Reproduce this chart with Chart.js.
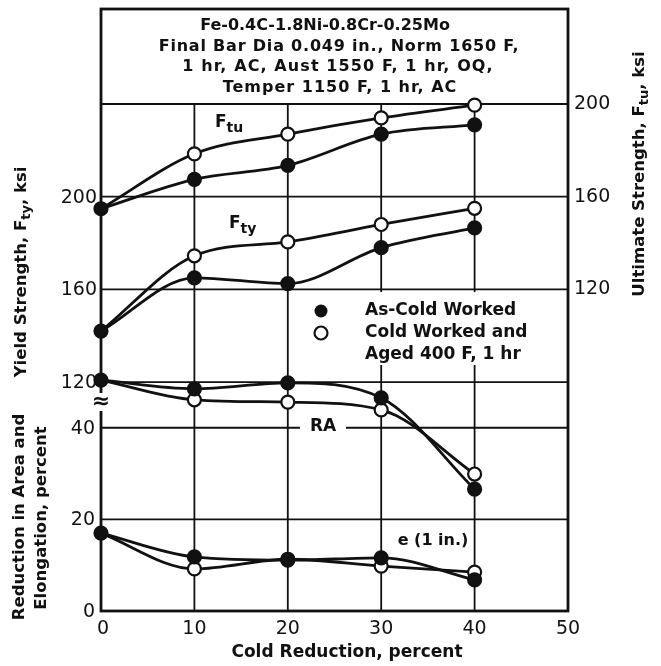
<!DOCTYPE html>
<html>
<head>
<meta charset="utf-8">
<script src="https://cdn.jsdelivr.net/npm/chart.js@4/dist/chart.umd.min.js"></script>
<style>
  html, body { margin: 0; padding: 0; background: #fff; }
  #chart { display: block; }
</style>
</head>
<body>
<canvas id="chart" width="661" height="666"></canvas>
<script>
// cold reduction, percent
const reduction = [0, 10, 20, 30, 40];

// ultimate strength Ftu, ksi (right axis)
const ftuCold = [154.8, 167.5, 173.5, 187, 191];
const ftuAged = [154.8, 178.5, 187, 194, 199.5];

// yield strength Fty, ksi (left, upper)
const ftyCold = [142, 165, 162.5, 178, 186.5];
const ftyAged = [142, 174.5, 180.5, 188, 195];

// reduction in area and elongation, percent (left, lower)
const raCold = [50.4, 48.5, 49.8, 46.5, 26.6];
const raAged = [50.4, 46.1, 45.6, 43.9, 29.9];
const elCold = [17, 11.8, 11.1, 11.6, 6.8];
const elAged = [17, 9.2, 11.3, 9.8, 8.5];

// ticks and grid
const xTicks = [0, 10, 20, 30, 40, 50];
const xGrid = [10, 20, 30, 40];
const yieldTicks = [120, 160, 200];
const yieldGrid = [120, 160, 200, 240];
const pctTicks = [0, 20, 40];
const pctGrid = [20, 40];
const ultTicks = [120, 160, 200];

const titleLines = [
  "Fe-0.4C-1.8Ni-0.8Cr-0.25Mo",
  "Final Bar Dia 0.049 in., Norm 1650 F,",
  "1 hr, AC, Aust 1550 F, 1 hr, OQ,",
  "Temper 1150 F, 1 hr, AC"
];

const FONT = '"DejaVu Sans", "Liberation Sans", sans-serif';
const INK = "#111";

function pts(ys) {
  return reduction.map((x, i) => ({ x: x, y: ys[i] }));
}

function series(label, ys, axis, aged) {
  return {
    label: label,
    data: pts(ys),
    yAxisID: axis,
    borderColor: INK,
    borderWidth: 2.8,
    cubicInterpolationMode: "monotone",
    fill: false,
    clip: false,
    pointRadius: aged ? (c => c.dataIndex === 0 ? 0 : 6.5) : 6.5,
    pointBorderWidth: 2.2,
    pointBorderColor: INK,
    pointBackgroundColor: aged ? "#fff" : INK
  };
}

// text with subscript runs: [["Yield Strength, F"], ["ty", true], [", ksi"]]
function runs(ctx, parts, x, y, size, align) {
  const sub = Math.round(size * 0.8);
  let w = 0;
  parts.forEach(p => {
    ctx.font = `bold ${p[1] ? sub : size}px ${FONT}`;
    w += ctx.measureText(p[0]).width;
  });
  let cx = align === "left" ? x : x - w / 2;
  ctx.textAlign = "left";
  parts.forEach(p => {
    ctx.font = `bold ${p[1] ? sub : size}px ${FONT}`;
    ctx.fillText(p[0], cx, p[1] ? y + size * 0.3 : y);
    cx += ctx.measureText(p[0]).width;
  });
}

function rotated(ctx, parts, cx, cy, size) {
  ctx.save();
  ctx.translate(cx, cy);
  ctx.rotate(-Math.PI / 2);
  runs(ctx, parts, 0, 0, size, "center");
  ctx.restore();
}

function seg(ctx, x1, y1, x2, y2) {
  ctx.beginPath();
  ctx.moveTo(x1, y1);
  ctx.lineTo(x2, y2);
  ctx.stroke();
}

const sheet = {
  id: "sheet",
  beforeDatasetsDraw(chart) {
    const { ctx, chartArea: a } = chart;
    const { x, yY, yP } = chart.scales;
    ctx.save();
    ctx.strokeStyle = INK;
    ctx.lineWidth = 1.8;
    const top = yY.getPixelForValue(240);
    xGrid.forEach(v => {
      const px = x.getPixelForValue(v);
      seg(ctx, px, top, px, a.bottom);
    });
    yieldGrid.forEach(v => {
      const py = yY.getPixelForValue(v);
      seg(ctx, a.left, py, a.right, py);
    });
    pctGrid.forEach(v => {
      const py = yP.getPixelForValue(v);
      seg(ctx, a.left, py, a.right, py);
    });
    // white patches: legend box and RA label gap
    ctx.fillStyle = "#fff";
    ctx.fillRect(300, 292, 262, 73);
    ctx.fillRect(300, yP.getPixelForValue(40) - 8, 46, 16);
    ctx.lineWidth = 2.8;
    ctx.strokeRect(a.left, a.top, a.right - a.left, a.bottom - a.top);
    ctx.restore();
  },
  afterDatasetsDraw(chart) {
    const { ctx, chartArea: a } = chart;
    const { x, yY, yP, yU } = chart.scales;
    ctx.save();
    ctx.fillStyle = INK;
    ctx.strokeStyle = INK;
    ctx.textBaseline = "middle";

    // axis break mark
    ctx.fillStyle = "#fff";
    ctx.fillRect(a.left - 6, 393, 12, 18);
    ctx.fillStyle = INK;
    ctx.font = `bold 22px ${FONT}`;
    ctx.textAlign = "center";
    ctx.fillText("\u2248", a.left, 402);

    // tick labels
    ctx.font = `19px ${FONT}`;
    ctx.textAlign = "right";
    yieldTicks.forEach(v => ctx.fillText(String(v), a.left - 4, yY.getPixelForValue(v) + 1));
    pctTicks.forEach(v => ctx.fillText(String(v), a.left - 6, yP.getPixelForValue(v) + 1));
    ctx.textAlign = "left";
    ultTicks.forEach(v => ctx.fillText(String(v), a.right + 6, yU.getPixelForValue(v)));
    ctx.textAlign = "center";
    xTicks.forEach(v => ctx.fillText(String(v), x.getPixelForValue(v) + (v === 0 ? 2 : 0), a.bottom + 18));

    // header inside the plot
    ctx.font = `bold 16px ${FONT}`;
    const centres = [325, 339, 338, 340];
    const spacing = [0, 0.8, 1.1, 1];
    titleLines.forEach((t, i) => {
      ctx.letterSpacing = spacing[i] + "px";
      ctx.fillText(t, centres[i], 26 + i * 20.5);
    });
    ctx.letterSpacing = "0px";

    // curve labels
    runs(ctx, [["F"], ["tu", true]], 215, 123, 17, "left");
    runs(ctx, [["F"], ["ty", true]], 229, 224, 17, "left");
    runs(ctx, [["RA"]], 323, yP.getPixelForValue(40) - 1, 17, "center");
    runs(ctx, [["e (1 in.)"]], 433, 541, 16, "center");

    // legend
    ctx.lineWidth = 2.2;
    ctx.beginPath();
    ctx.arc(321, 311, 6.5, 0, Math.PI * 2);
    ctx.fill();
    ctx.beginPath();
    ctx.arc(321, 333, 6.5, 0, Math.PI * 2);
    ctx.fillStyle = "#fff";
    ctx.fill();
    ctx.stroke();
    ctx.fillStyle = INK;
    runs(ctx, [["As-Cold Worked"]], 365, 311, 17, "left");
    runs(ctx, [["Cold Worked and"]], 365, 333, 17, "left");
    runs(ctx, [["Aged 400 F, 1 hr"]], 365, 355, 17, "left");

    // axis titles
    rotated(ctx, [["Yield Strength, F"], ["ty", true], [", ksi"]], 22, 272, 16.5);
    rotated(ctx, [["Reduction in Area and"]], 20, 517, 16.5);
    rotated(ctx, [["Elongation, percent"]], 42, 518, 16.5);
    rotated(ctx, [["Ultimate Strength, F"], ["tu", true], [", ksi"]], 640, 174, 16.5);
    runs(ctx, [["Cold Reduction, percent"]], 347, 653, 17, "center");
    ctx.restore();
  }
};

new Chart(document.getElementById("chart"), {
  type: "line",
  data: {
    datasets: [
      series("Ftu as-cold worked", ftuCold, "yU", false),
      series("Fty as-cold worked", ftyCold, "yY", false),
      series("RA as-cold worked", raCold, "yP", false),
      series("e as-cold worked", elCold, "yP", false),
      series("Ftu aged", ftuAged, "yU", true),
      series("Fty aged", ftyAged, "yY", true),
      series("RA aged", raAged, "yP", true),
      series("e aged", elAged, "yP", true)
    ]
  },
  options: {
    responsive: false,
    animation: false,
    devicePixelRatio: 1,
    layout: { padding: { left: 101, right: 93, top: 9, bottom: 55 } },
    plugins: { legend: { display: false }, tooltip: { enabled: false } },
    scales: {
      x: { type: "linear", min: 0, max: 50, display: false },
      yY: { type: "linear", min: 21.2, max: 281, display: false },
      yP: { type: "linear", min: 0, max: 131.4, display: false },
      yU: { type: "linear", min: -18.8, max: 241, display: false }
    }
  },
  plugins: [sheet]
});
</script>
</body>
</html>
